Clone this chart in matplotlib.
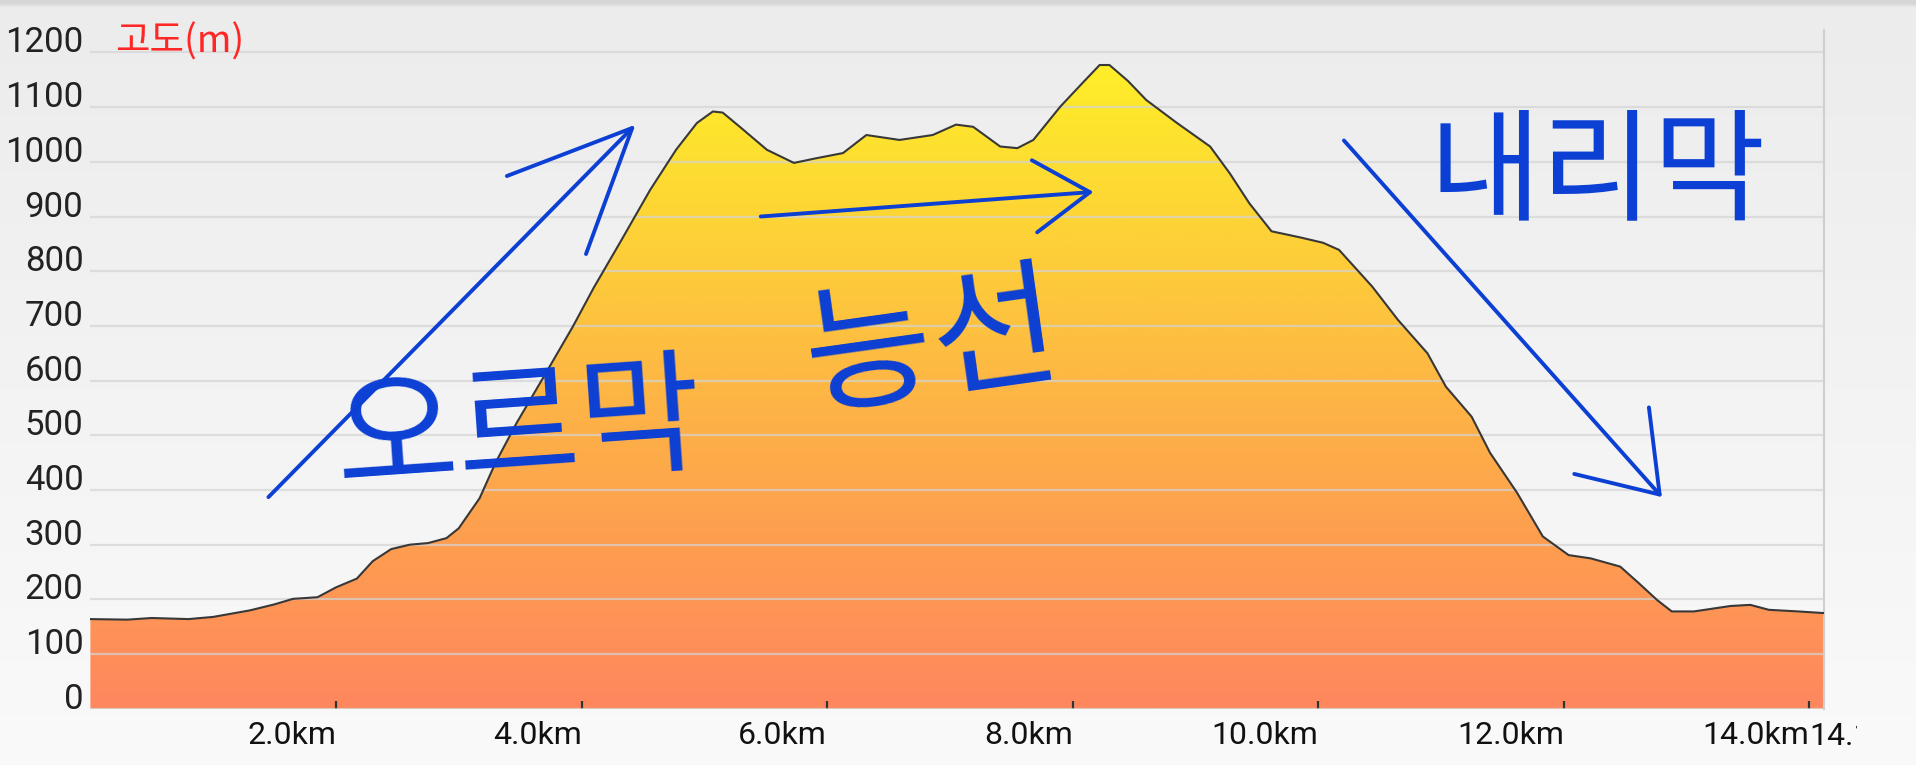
import matplotlib
matplotlib.use("Agg")
import matplotlib.pyplot as plt
import numpy as np
from matplotlib.colors import LinearSegmentedColormap
from matplotlib.transforms import Bbox

# elevation profile (distance km, altitude m)
dist_km = [0.0, 0.3, 0.5, 0.8, 1.0, 1.3, 1.5, 1.65, 1.85, 2.0, 2.17, 2.3, 2.45, 2.6,
           2.75, 2.9, 3.0, 3.17, 3.3, 3.47, 3.7, 3.93, 4.1, 4.31, 4.56, 4.77, 4.94,
           5.07, 5.15, 5.3, 5.51, 5.73, 5.9, 6.13, 6.32, 6.59, 6.86, 7.05, 7.19,
           7.41, 7.55, 7.68, 7.9, 8.08, 8.22, 8.3, 8.45, 8.6, 8.85, 9.12, 9.28,
           9.44, 9.62, 9.85, 10.04, 10.17, 10.44, 10.65, 10.89, 11.04, 11.25,
           11.4, 11.62, 11.83, 12.04, 12.22, 12.46, 12.61, 12.76, 12.88, 13.06,
           13.36, 13.52, 13.67, 13.91, 14.12]
elev_m = [164, 163, 166, 164, 168, 180, 191, 201, 204, 222, 238, 270, 292, 300,
          303, 312, 330, 385, 450, 522, 610, 699, 770, 851, 949, 1022, 1071,
          1092, 1090, 1062, 1022, 998, 1006, 1016, 1049, 1040, 1049, 1068, 1064,
          1028, 1025, 1040, 1101, 1144, 1177, 1177, 1148, 1113, 1071, 1028, 979,
          924, 873, 862, 852, 839, 772, 711, 650, 589, 534,
          468, 395, 315, 281, 275, 260, 230, 199, 178, 178,
          188, 190, 181, 178, 175]

y_ticks = [0, 100, 200, 300, 400, 500, 600, 700, 800, 900, 1000, 1100, 1200]
x_ticks = [2, 4, 6, 8, 10, 12, 14]
x_labels = ["2.0km", "4.0km", "6.0km", "8.0km", "10.0km", "12.0km", "14.0km"]
end_label = "14.1km"
y_title = "고도(m)"

# hand-drawn notes: (text, km, m, size, rotation)
notes = [("오르막", 3.49, 505, 96, 4),
         ("능선", 6.86, 660, 100, 8),
         ("내리막", 12.27, 975, 88, 0)]
# arrows: (tail km, tail m, head km, head m, head length, head width)
arrows = [(1.45, 387, 4.44, 1068, 2.2, 1.0),
          (5.46, 900, 8.17, 945, 1.0, 0.65),
          (10.21, 1039, 12.80, 387, 1.3, 0.9)]

plt.rcParams['font.family'] = ['Roboto', 'Noto Sans CJK KR', 'DejaVu Sans']

W, H = 1916, 765
fig = plt.figure(figsize=(W / 100, H / 100), dpi=100)

# background gradient over whole figure
bg = fig.add_axes([0, 0, 1, 1], zorder=-10)
bg.axis('off')
rows = np.linspace(0, 1, H)
col = 0.925 + 0.055 * rows
col[:4] = 0.84
col[4:8] = np.linspace(0.86, 0.925, 4)
img = np.repeat(col[:, None, None], 3, axis=2)
bg.imshow(img, aspect='auto', extent=[0, 1, 0, 1], origin='upper')
bg.set_xlim(0, 1)
bg.set_ylim(0, 1)

x_end = 14.12
y_top = 1241
ax = fig.add_axes([90.4 / W, (H - 708.8) / H, (1824 - 90.4) / W, (708.8 - 30) / H])
ax.set_facecolor('none')
ax.set_xlim(0, x_end)
ax.set_ylim(0, y_top)

x = np.array(dist_km)
y = np.array(elev_m)

cmap = LinearSegmentedColormap.from_list('alt', [
    (0.0, '#ff875f'), (0.25, '#fe9d50'), (0.5, '#fdb744'),
    (0.75, '#fdd436'), (1.0, '#ffef28')])
poly = ax.fill_between(x, y, 0, color='none', lw=0)
grad = np.linspace(0, 1, 400)[:, None]
im = ax.imshow(grad, cmap=cmap, aspect='auto', origin='lower',
               extent=[0, x_end, 0, 1190], zorder=1)
im.set_clip_path(poly.get_paths()[0], transform=ax.transData)

for yt in y_ticks:
    ax.axhline(yt, color='#d4d4d4', lw=1.6, alpha=0.7, zorder=2)

ax.plot(x, y, color='#383838', lw=1.5, zorder=3, solid_joinstyle='round')

for s in ['top', 'left', 'bottom']:
    ax.spines[s].set_visible(False)
ax.spines['right'].set_color('#cfcfcf')
ax.spines['right'].set_linewidth(1.5)

ax.set_yticks(y_ticks)
ax.set_yticklabels([str(v) for v in y_ticks], fontsize=25, color='#222222')
for lb in ax.get_yticklabels():
    lb.set_va('baseline')
ax.tick_params(axis='y', length=0, pad=5)

ax.set_xticks(x_ticks)
ax.set_xticklabels(x_labels, fontsize=23, color='#111111')
for lb in ax.get_xticklabels():
    lb.set_ha('right')
ax.tick_params(axis='x', direction='in', length=6, width=1.6, color='#333333', pad=9)
ax.get_xticklines()[0].set_color('#e8e8e8')

t = ax.text(x_ticks[-1], -24, end_label, fontsize=23, color='#111111',
            ha='left', va='top', clip_on=True)
t.set_clip_box(Bbox.from_extents(0, 0, 1857, H))

ax.text(0.2, 1200, y_title, fontsize=27, color='#ff2626', va='baseline', ha='left',
        family=['Noto Sans CJK KR', 'DejaVu Sans'], zorder=5)

blue = '#0c3fd4'
for txt, kx, my, fs, rot in notes:
    ax.text(kx, my, txt, fontsize=fs, color=blue, ha='center', va='center',
            rotation=rot, fontweight='light', zorder=6,
            family=['Noto Sans CJK KR', 'DejaVu Sans'])
for tx, ty, hx, hy, hl, hw in arrows:
    ax.annotate('', xy=(hx, hy), xytext=(tx, ty), zorder=6,
                arrowprops=dict(arrowstyle=f'->,head_length={hl},head_width={hw}',
                                color=blue, lw=2.8, mutation_scale=40,
                                shrinkA=0, shrinkB=0))

fig.savefig('out.png', dpi=100)
